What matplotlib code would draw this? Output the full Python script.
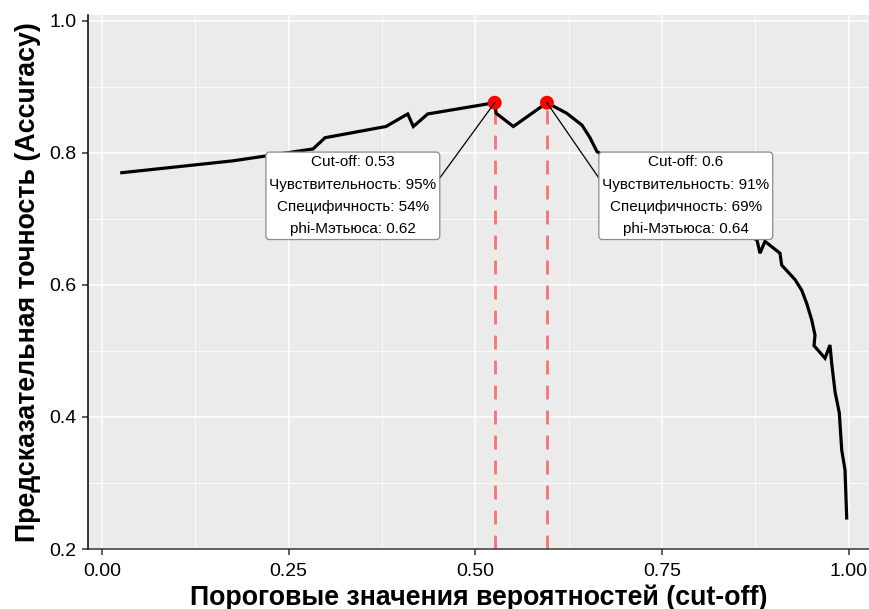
import matplotlib
matplotlib.use("Agg")
import matplotlib.pyplot as plt
from matplotlib.ticker import MultipleLocator

# Accuracy as a function of the probability cut-off
cutoff = [0.0264, 0.1755, 0.2827, 0.2987, 0.3804, 0.4095, 0.4170, 0.4363,
          0.5260, 0.5280, 0.5510, 0.5960, 0.6225, 0.6430, 0.6537, 0.6630,
          0.7740, 0.8774, 0.8814, 0.8881, 0.9082, 0.9105, 0.9284, 0.9373,
          0.9440, 0.9507, 0.9551, 0.9538, 0.9685, 0.9752, 0.9775, 0.9820,
          0.9877, 0.9909, 0.9953, 0.9976]
accuracy = [0.770, 0.788, 0.806, 0.823, 0.840, 0.859, 0.840, 0.859,
            0.876, 0.860, 0.840, 0.876, 0.860, 0.842, 0.823, 0.802,
            0.733, 0.668, 0.648, 0.666, 0.648, 0.630, 0.608, 0.592,
            0.572, 0.547, 0.524, 0.508, 0.489, 0.509, 0.481, 0.438,
            0.406, 0.350, 0.320, 0.247]

# Optimal cut-offs and their metrics
best_cutoff = [0.526, 0.596]
best_accuracy = [0.876, 0.876]
cutoff_text = ["0.53", "0.6"]
sensitivity = [95, 91]
specificity = [54, 69]
mcc = [0.62, 0.64]

x_ticks = [0.0, 0.25, 0.5, 0.75, 1.0]
x_ticklabels = ["0.00", "0.25", "0.50", "0.75", "1.00"]
y_ticks = [0.2, 0.4, 0.6, 0.8, 1.0]
y_ticklabels = ["0.2", "0.4", "0.6", "0.8", "1.0"]

font = ["Liberation Sans", "DejaVu Sans"]

fig = plt.figure(figsize=(8.7, 6.09), dpi=100)
ax = fig.add_axes([0.101, 0.0985, 0.899, 0.877])
ax.set_facecolor("#EBEBEB")
ax.set_xlim(-0.019, 1.0288)
ax.set_ylim(0.2, 1.009)

ax.xaxis.set_major_locator(MultipleLocator(0.25))
ax.xaxis.set_minor_locator(MultipleLocator(0.125))
ax.yaxis.set_major_locator(MultipleLocator(0.2))
ax.yaxis.set_minor_locator(MultipleLocator(0.1))
ax.grid(which="major", color="white", linewidth=1.1)
ax.grid(which="minor", color="white", linewidth=0.55)
ax.set_axisbelow(True)

for side in ("top", "right"):
    ax.spines[side].set_visible(False)
ax.spines["left"].set_color("black")
ax.spines["left"].set_linewidth(1.1)
ax.spines["bottom"].set_color("#333333")
ax.spines["bottom"].set_linewidth(1.1)

ax.set_xticks(x_ticks)
ax.set_xticklabels(x_ticklabels)
ax.set_yticks(y_ticks)
ax.set_yticklabels(y_ticklabels)
ax.tick_params(which="major", length=4, width=1.1, color="#333333",
               labelsize=14, labelcolor="black")
ax.tick_params(axis="x", pad=6)
ax.tick_params(axis="y", pad=4)
ax.tick_params(which="minor", length=0)
for lab in ax.get_xticklabels() + ax.get_yticklabels():
    lab.set_family(font)

ax.set_xlabel("Пороговые значения вероятностей (cut-off)", family=font,
              fontsize=19.3, fontweight="bold", labelpad=3)
ax.set_ylabel("Предсказательная точность (Accuracy)", family=font,
              fontsize=19.3, fontweight="bold", labelpad=6)

ax.plot(cutoff, accuracy, color="black", linewidth=2.3, zorder=3,
        solid_joinstyle="miter")

for xc, yc in zip(best_cutoff, best_accuracy):
    ax.plot([xc, xc], [0.2, yc], color="#F87474", linewidth=2.0,
            linestyle=(0, (5, 4)), zorder=2)
ax.scatter(best_cutoff, best_accuracy, s=100, color="#FF0000", zorder=4,
           edgecolors="none")

label_pos = [(0.336, 0.735), (0.782, 0.735)]
texts = []
for i in range(2):
    txt = (f"Cut-off: {cutoff_text[i]}\n"
           f"Чувствительность: {sensitivity[i]}%\n"
           f"Специфичность: {specificity[i]}%\n"
           f"phi-Мэтьюса: {mcc[i]:.2f}")
    t = ax.text(*label_pos[i], txt, ha="center", va="center",
                multialignment="center", family=font, fontsize=11,
                linespacing=1.75, zorder=6,
                bbox=dict(boxstyle="round,pad=0.22,rounding_size=0.25",
                          facecolor="white", edgecolor="#8C8C8C",
                          linewidth=0.9))
    texts.append(t)

fig.canvas.draw()
inv = ax.transData.inverted()
for i, t in enumerate(texts):
    ext = t.get_bbox_patch().get_window_extent()
    x0, y0 = inv.transform((ext.x0, ext.y0))
    x1, y1 = inv.transform((ext.x1, ext.y1))
    ya = (y0 + y1) / 2 + 0.027
    xa = x1 if best_cutoff[i] > x1 else x0
    ax.plot([xa, best_cutoff[i]], [ya, best_accuracy[i]], color="black",
            linewidth=0.9, zorder=5)

fig.savefig("out.png", dpi=100)
